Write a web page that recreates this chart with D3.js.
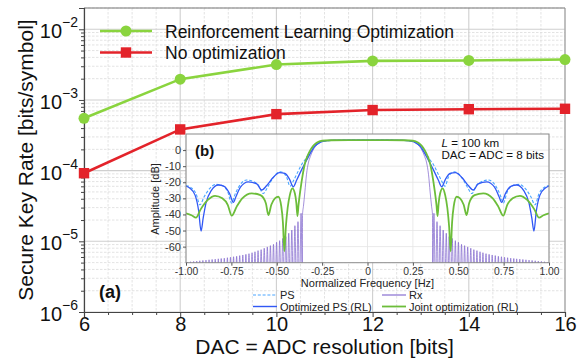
<!DOCTYPE html>
<html><head><meta charset="utf-8">
<script src="https://cdn.jsdelivr.net/npm/d3@7"></script>
<style>
body{margin:0;background:#fff}
svg{display:block;font-family:"Liberation Sans",Arial,sans-serif}
</style>
</head><body>
<svg id="c" width="587" height="360"></svg>
<script>
// ---------------- main chart data ----------------
const bits = [6, 8, 10, 12, 14, 16];
const rlRate = [5.5e-4, 1.97e-3, 3.17e-3, 3.57e-3, 3.62e-3, 3.73e-3];
const noOptRate = [9.2e-5, 3.83e-4, 6.3e-4, 7.2e-4, 7.4e-4, 7.5e-4];
const seriesNames = ["Reinforcement Learning Optimization", "No optimization"];
const xTickValues = [6, 8, 10, 12, 14, 16];
const yTickExps = [-6, -5, -4, -3, -2];

// ---------------- inset data (positive-frequency half, spectrum is symmetric) ----------------
const psF  = [0,0.1,0.2,0.25,0.28,0.30,0.32,0.345,0.363,0.39,0.41,0.427,0.445,0.465,0.48,0.5,0.53,0.555,0.575,0.6,0.63,0.666,0.71,0.735,0.748,0.77,0.80,0.836,0.87,0.90,0.923,0.945,0.97,1.0];
const psDb = [6.2,6.2,6.0,5.3,3.8,1.8,-1.5,-6.2,-9,-15,-19.5,-22.5,-17,-14,-13.5,-14.5,-19,-24,-27,-22,-19.5,-18.6,-23,-29,-33,-26,-22,-21.3,-24,-29,-34,-27,-23.5,-22];
const optF  = [0,0.1,0.2,0.24,0.27,0.29,0.31,0.335,0.36,0.39,0.409,0.43,0.455,0.485,0.52,0.555,0.583,0.61,0.657,0.70,0.725,0.739,0.76,0.79,0.822,0.86,0.89,0.905,0.917,0.93,0.95,0.98,1.0];
const optDb = [6.2,6.2,6.0,5.5,4.2,2.5,-1,-6.2,-11.5,-18.6,-22.8,-18,-14.5,-14,-17,-22,-24.8,-21,-19.7,-23,-29,-32.5,-27,-22.5,-21.7,-25,-33,-42,-50.3,-38,-28,-23.5,-22.4];
const jointF  = [0,0.1,0.2,0.25,0.28,0.30,0.315,0.33,0.344,0.358,0.37,0.38,0.386,0.392,0.40,0.414,0.428,0.44,0.45,0.458,0.466,0.475,0.491,0.51,0.53,0.546,0.56,0.59,0.638,0.69,0.72,0.748,0.77,0.80,0.84,0.88,0.92,0.945,0.97,1.0];
const jointDb = [6.2,6.2,6.1,5.8,4.5,2.5,0,-3.5,-8,-16,-25,-34,-41,-33,-27,-23.8,-28,-36,-48,-63,-45,-35,-29,-30,-34,-40.4,-33,-28,-26.9,-30,-35,-40.8,-34,-30,-28.4,-31,-37,-42,-40.5,-39.3];
const rxMainF  = [0,0.1,0.2,0.25,0.28,0.30,0.315,0.326,0.336,0.345,0.353,0.358];
const rxMainDb = [6.2,6.2,6.1,5.5,3,0,-4,-8,-15,-26,-35,-40];
const rxPeakF  = [0.366,0.383,0.400,0.417,0.434,0.450,0.467,0.484,0.501,0.518,0.535,0.552,0.569,0.586,0.603,0.620,0.636,0.653,0.670,0.687,0.704,0.721,0.738,0.755,0.772,0.789,0.806,0.822,0.839,0.856,0.873,0.890,0.907,0.924,0.941,0.958,0.975,0.992];
const rxPeakDb = [-39.3,-44.5,-47,-49.7,-51.7,-53.8,-54.9,-56.3,-57.3,-58.6,-59.4,-60.2,-61,-61.9,-62.5,-63.2,-63.8,-64.4,-64.8,-65.2,-65.6,-66,-66.3,-66.6,-66.9,-67.2,-67.4,-67.6,-67.8,-68,-68.2,-68.4,-68.6,-68.8,-69,-69.2,-69.4,-69.6];
const rxNullF  = [0.3588,0.3745,0.3915,0.4085,0.4255,0.442,0.4585,0.4755,0.4925,0.5095,0.5265,0.5435,0.5605,0.5775,0.5945,0.6115,0.628,0.6445,0.6615,0.6785,0.6955,0.7125,0.7295,0.7465,0.7635,0.7805,0.7975,0.814,0.8305,0.8475,0.8645,0.8815,0.8985,0.9155,0.9325,0.9495,0.9665,0.9835,1.0];
const rxNullDb = -90; // nulls fall below the axis floor
const insetXTicks = [-1, -0.75, -0.5, -0.25, 0, 0.25, 0.5, 0.75, 1];
const insetYTicks = [0, -10, -20, -30, -40, -50, -60];
const insetLegend = ["PS", "Rx", "Optimized PS (RL)", "Joint optimization (RL)"];

// ---------------- helpers ----------------
const svg = d3.select("#c");
function mirror(F, D) {
  const half = F.map((f, i) => [f, D[i]]);
  const left = half.filter(p => p[0] > 0).map(p => [-p[0], p[1]]).reverse();
  return left.concat(half);
}

// ---------------- main axes ----------------
const L = 84, R = 565, T = 8, B = 312;
const x = d3.scaleLinear().domain([6, 16]).range([L, R]);
const y = d3.scaleLog().domain([1e-6, 2e-2]).range([B, T]);
const isMinor = v => Math.abs(Math.log10(v) - Math.round(Math.log10(v))) > 1e-6;
const xMinor = d3.range(6.5, 16, 0.5).filter(v => v % 2 !== 0);

const grid = svg.append("g");
xMinor.forEach(v => {
  grid.append("line").attr("x1", x(v)).attr("x2", x(v)).attr("y1", T).attr("y2", B)
    .attr("stroke", "#dcdcdc").attr("stroke-width", 0.8).attr("stroke-dasharray", "2.5,1.5");
});
y.ticks().filter(isMinor).forEach(v => {
  grid.append("line").attr("x1", L).attr("x2", R).attr("y1", y(v)).attr("y2", y(v))
    .attr("stroke", "#dcdcdc").attr("stroke-width", 0.8).attr("stroke-dasharray", "2.5,1.5");
});
xTickValues.forEach(v => grid.append("line").attr("x1", x(v)).attr("x2", x(v)).attr("y1", T).attr("y2", B)
  .attr("stroke", "#cfcfcf").attr("stroke-width", 1.1));
yTickExps.forEach(e => grid.append("line").attr("x1", L).attr("x2", R).attr("y1", y(Math.pow(10, e))).attr("y2", y(Math.pow(10, e)))
  .attr("stroke", "#cfcfcf").attr("stroke-width", 1.1));

// frame
svg.append("line").attr("x1", L).attr("x2", R).attr("y1", T).attr("y2", T).attr("stroke", "#777").attr("stroke-width", 1);
svg.append("line").attr("x1", R).attr("x2", R).attr("y1", T).attr("y2", B).attr("stroke", "#999").attr("stroke-width", 1);

// x axis
const xAxis = d3.axisBottom(x).tickValues(xTickValues).tickFormat(d3.format("d")).tickSize(5).tickPadding(0);
const gx = svg.append("g").attr("transform", `translate(0,${B})`).call(xAxis);
gx.select(".domain").attr("stroke", "#444").attr("stroke-width", 1.2);
gx.selectAll(".tick line").attr("stroke", "#444");
gx.selectAll("text").attr("font-size", 20).attr("fill", "#111").attr("font-family", "Liberation Sans, Arial, sans-serif");
const gxm = svg.append("g").attr("transform", `translate(0,${B})`)
  .call(d3.axisBottom(x).tickValues(xMinor).tickSize(3).tickFormat(""));
gxm.select(".domain").remove();
gxm.selectAll(".tick line").attr("stroke", "#444");

// y axis
const gy = svg.append("g").attr("transform", `translate(${L},0)`)
  .call(d3.axisLeft(y).tickValues(yTickExps.map(e => Math.pow(10, e))).tickSize(5).tickFormat(""));
gy.select(".domain").attr("stroke", "#444").attr("stroke-width", 1.2);
gy.selectAll(".tick line").attr("stroke", "#444");
const gym = svg.append("g").attr("transform", `translate(${L},0)`)
  .call(d3.axisLeft(y).tickValues(y.ticks().filter(isMinor)).tickSize(3).tickFormat(""));
gym.select(".domain").remove();
gym.selectAll(".tick line").attr("stroke", "#444");
yTickExps.forEach(e => {
  const t = svg.append("text").attr("x", 78).attr("y", y(Math.pow(10, e)) + 9).attr("text-anchor", "end")
    .attr("font-size", 20).attr("fill", "#111");
  t.append("tspan").text("10");
  t.append("tspan").attr("dy", -11).attr("font-size", 14).text("\u2212" + Math.abs(e));
});

// axis titles
svg.append("text").attr("transform", `translate(33,${(T + B) / 2}) rotate(-90)`).attr("text-anchor", "middle")
  .attr("font-size", 21).attr("fill", "#111").text("Secure Key Rate [bits/symbol]");
svg.append("text").attr("x", (L + R) / 2).attr("y", 354).attr("text-anchor", "middle")
  .attr("font-size", 21).attr("fill", "#111").text("DAC = ADC resolution [bits]");

// main series
const green = "#8ad43e", red = "#e3232a";
const line = d3.line().x(d => x(d[0])).y(d => y(d[1]));
const rlData = bits.map((b, i) => [b, rlRate[i]]);
const noData = bits.map((b, i) => [b, noOptRate[i]]);
svg.append("path").attr("d", line(rlData)).attr("fill", "none").attr("stroke", green).attr("stroke-width", 2.6);
svg.append("path").attr("d", line(noData)).attr("fill", "none").attr("stroke", red).attr("stroke-width", 2.6);
svg.selectAll(".mc").data(rlData).join("circle").attr("cx", d => x(d[0])).attr("cy", d => y(d[1])).attr("r", 5.5).attr("fill", green);
svg.selectAll(".ms").data(noData).join("rect").attr("x", d => x(d[0]) - 5.2).attr("y", d => y(d[1]) - 5.2)
  .attr("width", 10.4).attr("height", 10.4).attr("fill", red);

// main legend
[[green, "c"], [red, "s"]].forEach((s, i) => {
  const ly = 31 + i * 21.5;
  svg.append("line").attr("x1", 100).attr("x2", 152).attr("y1", ly).attr("y2", ly).attr("stroke", s[0]).attr("stroke-width", 2.6);
  if (s[1] === "c") svg.append("circle").attr("cx", 126).attr("cy", ly).attr("r", 5.5).attr("fill", s[0]);
  else svg.append("rect").attr("x", 120.8).attr("y", ly - 5.2).attr("width", 10.4).attr("height", 10.4).attr("fill", s[0]);
  svg.append("text").attr("x", 165).attr("y", ly + 6.5).attr("font-size", 17.5).attr("fill", "#111").text(seriesNames[i]);
});

svg.append("text").attr("x", 99).attr("y", 298).attr("font-size", 18).attr("font-weight", "bold").attr("fill", "#111").text("(a)");

// ---------------- inset ----------------
const iL = 186, iR = 549, iT = 134, iB = 262.7;
const ix = d3.scaleLinear().domain([-1, 1]).range([iL, iR]);
const iy = d3.scaleLinear().domain([-70, 10]).range([iB, iT]);
const inset = svg.append("g");
inset.append("rect").attr("x", iL).attr("y", iT).attr("width", iR - iL).attr("height", iB - iT).attr("fill", "#fff");
insetXTicks.forEach(v => inset.append("line").attr("x1", ix(v)).attr("x2", ix(v)).attr("y1", iT).attr("y2", iB)
  .attr("stroke", "#e3e3e3").attr("stroke-width", 0.8));
insetYTicks.forEach(v => inset.append("line").attr("x1", iL).attr("x2", iR).attr("y1", iy(v)).attr("y2", iy(v))
  .attr("stroke", "#e3e3e3").attr("stroke-width", 0.8));

svg.append("defs").append("clipPath").attr("id", "ic").append("rect")
  .attr("x", iL).attr("y", iT).attr("width", iR - iL).attr("height", iB - iT);
const curves = inset.append("g").attr("clip-path", "url(#ic)");
const iline = d3.line().x(d => ix(d[0])).y(d => iy(d[1])).curve(d3.curveMonotoneX);

// Rx: main lobe + sidelobes
const rxHalfF = [], rxHalfD = [];
rxMainF.forEach((f, i) => { rxHalfF.push(f); rxHalfD.push(rxMainDb[i]); });
rxNullF.forEach((f, i) => {
  rxHalfF.push(f); rxHalfD.push(rxNullDb);
  if (i < rxPeakF.length) { rxHalfF.push(rxPeakF[i]); rxHalfD.push(rxPeakDb[i]); }
});
const purple = "#7d62cc", blue = "#3158f5", lblue = "#4aa6ff", igreen = "#6cbd3a";
curves.append("path").attr("d", iline(mirror(rxHalfF, rxHalfD)))
  .attr("fill", "none").attr("stroke", purple).attr("stroke-width", 0.7);
curves.append("path").attr("d", iline(mirror(psF, psDb))).attr("fill", "none").attr("stroke", lblue).attr("stroke-width", 1.1).attr("stroke-dasharray", "3,1.8");
curves.append("path").attr("d", iline(mirror(optF, optDb))).attr("fill", "none").attr("stroke", blue).attr("stroke-width", 1.3);
curves.append("path").attr("d", iline(mirror(jointF, jointDb))).attr("fill", "none").attr("stroke", igreen).attr("stroke-width", 1.8);

inset.append("rect").attr("x", iL).attr("y", iT).attr("width", iR - iL).attr("height", iB - iT)
  .attr("fill", "none").attr("stroke", "#8a8a8a").attr("stroke-width", 1);

const igx = inset.append("g").attr("transform", `translate(0,${iB})`)
  .call(d3.axisBottom(ix).tickValues(insetXTicks).tickSize(3).tickPadding(2)
    .tickFormat(d => d === 0 ? "0" : d3.format(".2f")(d).replace("\u2212", "-")));
igx.select(".domain").remove();
igx.selectAll(".tick line").attr("stroke", "#555");
igx.selectAll("text").attr("font-size", 10.3).attr("fill", "#333").attr("font-family", "Liberation Sans, Arial, sans-serif");
const igy = inset.append("g").attr("transform", `translate(${iL},0)`)
  .call(d3.axisLeft(iy).tickValues(insetYTicks).tickSize(3).tickPadding(2)
    .tickFormat(d => String(d)));
igy.select(".domain").remove();
igy.selectAll(".tick line").attr("stroke", "#555");
igy.selectAll("text").attr("font-size", 11).attr("fill", "#333").attr("font-family", "Liberation Sans, Arial, sans-serif");

inset.append("text").attr("x", (iL + iR) / 2).attr("y", 287).attr("text-anchor", "middle")
  .attr("font-size", 11).attr("fill", "#222").text("Normalized Frequency [Hz]");
inset.append("text").attr("transform", `translate(158.5,199) rotate(-90)`).attr("text-anchor", "middle")
  .attr("font-size", 11).attr("fill", "#222").text("Amplitude [dB]");
inset.append("text").attr("x", 195).attr("y", 155.5).attr("font-size", 15).attr("font-weight", "bold").attr("fill", "#111").text("(b)");
const ann = inset.append("text").attr("x", 441.5).attr("y", 146.5).attr("font-size", 11.6).attr("fill", "#111");
ann.append("tspan").attr("font-style", "italic").text("L");
ann.append("tspan").text(" = 100 km");
inset.append("text").attr("x", 441.5).attr("y", 159).attr("font-size", 11.6).attr("fill", "#111").text("DAC = ADC = 8 bits");

// inset legend
const legItems = [
  {x: 253, y: 295, c: lblue, w: 1.1, dash: "3,1.8", t: insetLegend[0]},
  {x: 382, y: 295, c: purple, w: 1.1, dash: null, t: insetLegend[1]},
  {x: 253, y: 306.5, c: blue, w: 1.4, dash: null, t: insetLegend[2]},
  {x: 382, y: 306.5, c: igreen, w: 1.8, dash: null, t: insetLegend[3]}
];
legItems.forEach(o => {
  const l = inset.append("line").attr("x1", o.x).attr("x2", o.x + 24).attr("y1", o.y).attr("y2", o.y)
    .attr("stroke", o.c).attr("stroke-width", o.w);
  if (o.dash) l.attr("stroke-dasharray", o.dash);
  inset.append("text").attr("x", o.x + 27).attr("y", o.y + 4).attr("font-size", 11).attr("fill", "#222").text(o.t);
});
</script>
</body></html>
